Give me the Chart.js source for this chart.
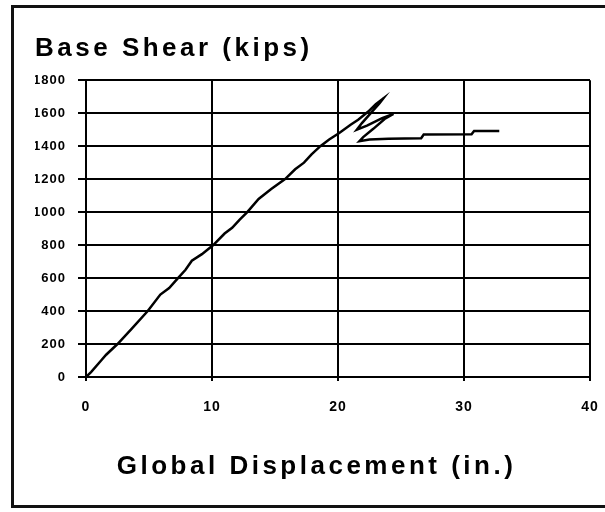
<!DOCTYPE html>
<html>
<head>
<meta charset="utf-8">
<script src="https://cdn.jsdelivr.net/npm/chart.js@4"></script>
<style>
  body { margin: 0; background: #fff; }
  #wrap { position: relative; width: 605px; height: 512px; overflow: hidden; }
  #frame { position: absolute; left: 11px; top: 5px; width: 640px; height: 503px; box-sizing: border-box; border: 3px solid #111; }
  canvas { position: absolute; left: 0; top: 0; }
</style>
</head>
<body>
<div id="wrap">
  <div id="frame"></div>
  <canvas id="pushover" width="605" height="512"></canvas>
</div>
<script>
// global displacement (in.) and base shear (kips)
const displacement = [0, 0.4, 1.2, 1.6, 2.5, 3.6, 4.9, 5.9, 6.6, 7.3, 7.9, 8.4, 9.2, 10.1, 11.0, 11.6, 12.2, 12.8, 13.7, 14.7, 15.8, 16.6, 17.3, 17.9, 18.6, 19.3, 20.1, 21.0, 21.6,
    22.4, 23.0, 23.6, 23.3, 22.6, 21.9, 21.5,
    22.3, 23.5, 24.4, 23.7, 22.8, 22.0, 21.7,
    22.5, 24.0, 26.6, 26.8, 30.6, 30.8, 32.8];
const baseShear = [0, 30, 100, 135, 200, 290, 400, 500, 540, 600, 650, 705, 745, 800, 870, 905, 955, 1000, 1080, 1140, 1200, 1260, 1300, 1350, 1400, 1440, 1480, 1530, 1560,
    1610, 1655, 1690, 1660, 1600, 1540, 1500,
    1525, 1570, 1595, 1565, 1505, 1455, 1430,
    1440, 1445, 1448, 1470, 1472, 1492, 1492];

const xTicks = [0, 10, 20, 30, 40];
const yTicks = [0, 200, 400, 600, 800, 1000, 1200, 1400, 1600, 1800];

const points = displacement.map((d, i) => ({ x: d, y: baseShear[i] }));

Chart.defaults.font.family = "'Liberation Sans', Arial, sans-serif";
Chart.defaults.color = '#000';

// wide letter spacing for the titles, tighter for tick labels
const spacing = {
    id: 'spacing',
    beforeDraw(chart) { chart.ctx.letterSpacing = '3.5px'; },
    beforeDatasetsDraw(chart) { chart.ctx.letterSpacing = '1px'; }
};

const ctx = document.getElementById('pushover').getContext('2d');
const chart = new Chart(ctx, {
    type: 'scatter',
    data: {
        datasets: [{
            data: points,
            showLine: true,
            borderColor: '#000',
            borderWidth: 2.5,
            pointRadius: 0,
            tension: 0
        }]
    },
    options: {
        responsive: false,
        animation: false,
        layout: {
            padding: { left: 35, right: 3, top: 20, bottom: 0 }
        },
        plugins: {
            legend: { display: false },
            tooltip: { enabled: false },
            title: {
                display: true,
                text: 'Base Shear (kips)',
                align: 'start',
                color: '#000',
                font: { size: 26, weight: 'bold' },
                padding: { top: 13, bottom: 16 }
            }
        },
        scales: {
            x: {
                type: 'linear',
                min: xTicks[0],
                max: xTicks[xTicks.length - 1],
                afterBuildTicks: (s) => { s.ticks = xTicks.map(v => ({ value: v })); },
                afterFit: (s) => { s.height = 135; s.paddingRight = 15; s.paddingLeft = 10; },
                ticks: { z: 1, color: '#000', font: { size: 14, weight: 'bold' }, padding: 18, maxRotation: 0, callback: (v) => String(v) },
                grid: { color: '#000', lineWidth: 2, tickLength: 4 },
                border: { color: '#000', width: 2 },
                title: {
                    display: true,
                    text: 'Global Displacement (in.)    ',
                    color: '#000',
                    font: { size: 26, weight: 'bold' },
                    padding: { top: 0, bottom: 30 }
                }
            },
            y: {
                min: yTicks[0],
                max: yTicks[yTicks.length - 1],
                afterBuildTicks: (s) => { s.ticks = yTicks.map(v => ({ value: v })); },
                afterFit: (s) => { s.width = 51; },
                ticks: { z: 1, color: '#000', font: { size: 13, weight: 'bold' }, padding: 12, callback: (v) => String(v) },
                grid: { color: '#000', lineWidth: 2, tickLength: 8 },
                border: { color: '#000', width: 2 }
            }
        }
    },
    plugins: [spacing]
});
</script>
</body>
</html>
